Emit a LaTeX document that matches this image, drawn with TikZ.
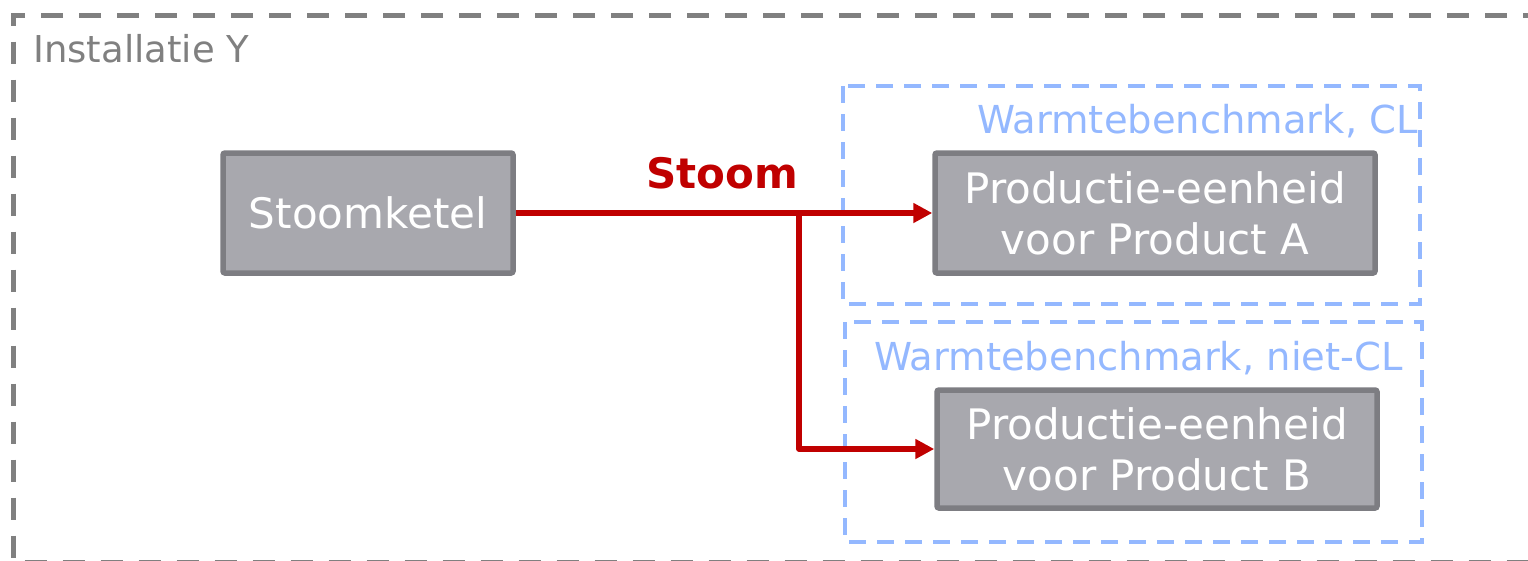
\documentclass[tikz,border=0pt]{standalone}
\usepackage{fontspec}
\setmainfont{DejaVu Sans}
\usetikzlibrary{arrows.meta}
\definecolor{framegray}{RGB}{128,128,128}
\definecolor{zoneblue}{RGB}{148,184,255}
\definecolor{unitfill}{RGB}{168,168,174}
\definecolor{unitline}{RGB}{125,125,130}
\definecolor{steamred}{RGB}{192,0,0}
\tikzset{
  unitbox/.style={draw=unitline, line width=5.5pt, fill=unitfill, rounded corners=2pt,
    text=white, font=\fontsize{42}{51}\selectfont, align=center, inner sep=0pt},
  zonebox/.style={draw=zoneblue, line width=4.5pt, dash pattern=on 17pt off 11pt},
  zonelabel/.style={text=zoneblue, font=\fontsize{38.5}{42}\selectfont, inner sep=0pt},
  steam/.style={draw=steamred, line width=5.5pt, line join=round,
    -{Triangle[length=19pt,width=19pt]}},
}
\begin{document}
\begin{tikzpicture}[x=1pt,y=-1pt]
\useasboundingbox (0,0) rectangle (1528,560);
% installation boundary
\draw[framegray, line width=5pt, dash pattern=on 22pt off 16pt]
  (1545,15.5) -- (13,15.5) -- (13,562) -- (1545,562);
\node[anchor=base west, text=framegray, font=\fontsize{37}{40}\selectfont, inner sep=0pt]
  (inst) at (33,62) {Installatie Y};
% benchmark zones
\draw[zonebox] (843,86) rectangle (1420,304);
\node[zonelabel, anchor=base east] (zlA) at (1418,133) {Warmtebenchmark, CL};
\draw[zonebox] (845,322) rectangle (1422,542);
\node[zonelabel, anchor=base east] (zlB) at (1403,370) {Warmtebenchmark, niet-CL};
% units
\node[unitbox, minimum width=290pt, minimum height=120pt] (boiler) at (368,213) {Stoomketel};
\node[unitbox, minimum width=440pt, minimum height=120pt] (unitA) at (1155,213)
  {Productie-eenheid\\voor Product A};
\node[unitbox, minimum width=440pt, minimum height=118pt] (unitB) at (1157,449)
  {Productie-eenheid\\voor Product B};
% steam distribution
\coordinate (split) at (799,213);
\draw[steam] (boiler.east) -- (unitA.west);
\draw[steam] (split) |- (unitB.west);
\node[anchor=base, text=steamred, font=\bfseries\fontsize{42}{46}\selectfont, inner sep=0pt]
  (steamlbl) at (722,188) {Stoom};
\end{tikzpicture}
\end{document}
